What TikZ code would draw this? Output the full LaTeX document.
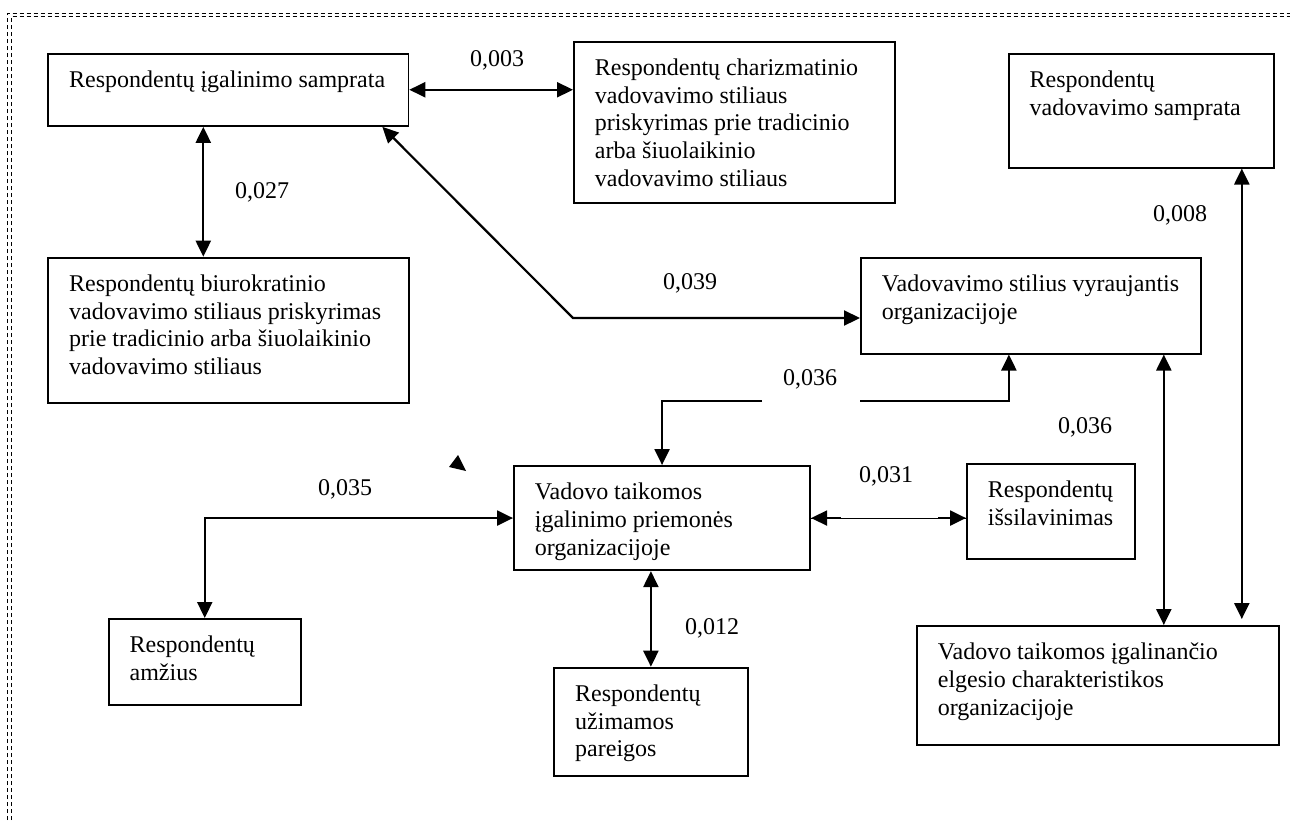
\documentclass[tikz,border=0pt]{standalone}
\usepackage{fontspec}
\setmainfont{Liberation Serif}
\usetikzlibrary{arrows.meta}
\newcommand{\dezute}[3]{\parbox[c][#2][t]{#1}{\raggedright\leftskip=21pt\rule{0pt}{34pt}#3}}

\begin{document}
\begin{tikzpicture}[x=1pt, y=-1pt,
    every node/.style={font=\fontsize{24}{27.6}\selectfont},
    dez/.style={draw, line width=1.8pt, inner sep=0pt, anchor=north west},
    skaic/.style={anchor=base, inner sep=0pt},
    rysys/.style={line width=2.2pt},
    remas/.style={line width=1.2pt, dash pattern=on 4pt off 3pt},
    >={Triangle[length=16pt,width=15pt]}]
  \useasboundingbox (0,0) rectangle (1290,820);
  % remelis
  \draw[remas] (7.3,820) |- (1290,13.3);
  \draw[remas] (11.3,820) |- (1290,16.3);
  % dezutes
  \node[dez] (igalSampr) at (47.3,52.7) {\dezute{360.2pt}{72.3pt}{Respondentų įgalinimo samprata}};
  \node[dez] (chariz) at (573,40.7) {\dezute{321pt}{161pt}{Respondentų charizmatinio\\vadovavimo stiliaus\\priskyrimas prie tradicinio\\arba šiuolaikinio\\vadovavimo stiliaus}};
  \node[dez] (vadSampr) at (1007.7,52.7) {\dezute{265.3pt}{114pt}{Respondentų\\vadovavimo samprata}};
  \node[dez] (biurokr) at (47.3,256.7) {\dezute{360.7pt}{145pt}{Respondentų biurokratinio\\vadovavimo stiliaus priskyrimas\\prie tradicinio arba šiuolaikinio\\vadovavimo stiliaus}};
  \node[dez] (vadStil) at (860,256.7) {\dezute{340pt}{96pt}{Vadovavimo stilius vyraujantis\\organizacijoje}};
  \node[dez] (vadTaik) at (513,465) {\dezute{296.3pt}{104.3pt}{Vadovo taikomos\\įgalinimo priemonės\\organizacijoje}};
  \node[dez] (issilav) at (966,462.7) {\dezute{168pt}{95pt}{Respondentų\\išsilavinimas}};
  \node[dez] (amzius) at (107.7,618) {\dezute{192.3pt}{86pt}{Respondentų\\amžius}};
  \node[dez] (pareigos) at (553.3,666.7) {\dezute{193.4pt}{108.3pt}{Respondentų\\užimamos\\pareigos}};
  \node[dez] (elgesio) at (916,625) {\dezute{361.7pt}{119pt}{Vadovo taikomos įgalinančio\\elgesio charakteristikos\\organizacijoje}};
  % rysiai
  \draw[rysys,<->] (igalSampr.east) -- (igalSampr.east -| chariz.west);
  \coordinate (igalApac) at ([xshift=-25pt]igalSampr.south);
  \draw[rysys,<->] (igalApac) -- (igalApac |- biurokr.north);
  \coordinate (lenkis) at (573,318);
  \draw[rysys,<->] ([xshift=-27pt]igalSampr.south east) -- (lenkis) -- (lenkis -| vadStil.west);
  \coordinate (tarpK) at (762,401);
  \coordinate (tarpD) at (860,401);
  \coordinate (stilApac) at ([xshift=-22pt]vadStil.south);
  \draw[rysys,->] (tarpK) -| (vadTaik.north);
  \draw[rysys,->] (tarpD) -| (stilApac);
  \draw[rysys,<->] (vadTaik.west) -| (amzius.north);
  \draw[rysys,<->] (vadTaik.south -| pareigos.north) -- (pareigos.north);
  \coordinate (issKair) at (vadTaik.east -| issilav.west);
  \draw[line width=0.8pt] (vadTaik.east) -- (issKair);
  \draw[rysys,->] ([xshift=30pt]vadTaik.east) -- (vadTaik.east);
  \draw[rysys,->] ([xshift=-28pt]issKair) -- (issKair);
  \coordinate (stilDes) at ([xshift=-38pt]vadStil.south east);
  \draw[rysys,<->] (stilDes) -- (stilDes |- elgesio.north);
  \coordinate (samprDes) at ([xshift=-33pt]vadSampr.south east);
  \draw[rysys,<->,shorten >=6pt] (samprDes) -- (samprDes |- elgesio.north);
  \fill (458,455) -- (449,467) -- (466,471) -- cycle;
  % koreliacijos
  \node[skaic] (k003) at (497,66) {0,003};
  \node[skaic] (k027) at (262,198) {0,027};
  \node[skaic] (k039) at (690,289) {0,039};
  \node[skaic] (k036a) at (810,385) {0,036};
  \node[skaic] (k031) at (886,482) {0,031};
  \node[skaic] (k035) at (345,495) {0,035};
  \node[skaic] (k012) at (712,634) {0,012};
  \node[skaic] (k036b) at (1085,433) {0,036};
  \node[skaic] (k008) at (1180,221) {0,008};
\end{tikzpicture}
\end{document}
